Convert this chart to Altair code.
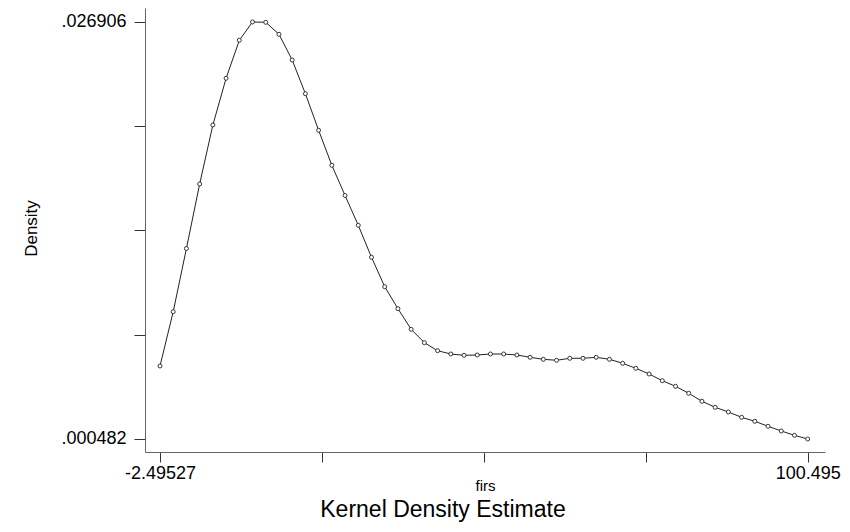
import altair as alt
import pandas as pd

# Evaluation grid of the kernel density estimate (50 points from min to max of firs)
x_values = [
    -2.4953, -0.3934, 1.7084, 3.8103, 5.9121, 8.0140, 10.1158, 12.2176, 14.3195, 16.4213,
    18.5232, 20.6250, 22.7268, 24.8287, 26.9305, 29.0324, 31.1342, 33.2361, 35.3379, 37.4397,
    39.5416, 41.6434, 43.7453, 45.8471, 47.9489, 50.0508, 52.1526, 54.2545, 56.3563, 58.4581,
    60.5600, 62.6618, 64.7637, 66.8655, 68.9674, 71.0692, 73.1710, 75.2729, 77.3747, 79.4766,
    81.5784, 83.6802, 85.7821, 87.8839, 89.9858, 92.0876, 94.1894, 96.2913, 98.3931, 100.4950,
]

density = [
    0.005108, 0.008549, 0.012553, 0.016641, 0.020379, 0.023339, 0.025747, 0.026906, 0.026887, 0.026127,
    0.024498, 0.022363, 0.020043, 0.017826, 0.015912, 0.014024, 0.011996, 0.010133, 0.008739, 0.007433,
    0.006584, 0.006077, 0.005868, 0.005786, 0.005805, 0.005868, 0.005868, 0.005805, 0.005659, 0.005532,
    0.005469, 0.005596, 0.005596, 0.005659, 0.005532, 0.005279, 0.004962, 0.004601, 0.004176, 0.003821,
    0.003378, 0.002871, 0.002491, 0.002193, 0.001857, 0.001604, 0.001287, 0.000989, 0.000716, 0.000482,
]

x_tick_values = [-2.49527, 23.25230, 48.99987, 74.74743, 100.495]
x_tick_labels = ["-2.49527", "", "", "", "100.495"]
y_tick_values = [0.000482, 0.007088, 0.013694, 0.020300, 0.026906]
y_tick_labels = [".000482", "", "", "", ".026906"]

df = pd.DataFrame({"firs": x_values, "Density": density})

FONT = "Liberation Sans"


def label_expr(values, labels):
    expr = "''"
    for v, lab in zip(values, labels):
        if lab:
            expr = f"abs(datum.value - ({v})) < 1e-6 * (1 + abs({v})) ? '{lab}' : " + expr
    return expr


x_scale = alt.Scale(domain=[-4.8804, 103.246], nice=False, zero=False)
y_scale = alt.Scale(domain=[-0.000342, 0.027793], nice=False, zero=False)

x_axis = alt.Axis(
    values=x_tick_values,
    labelExpr=label_expr(x_tick_values, x_tick_labels),
    tickSize=10,
    labelPadding=2,
    labelFontSize=18,
    labelFont=FONT,
    labelColor="black",
    labelOverlap=False,
    labelFlush=False,
    grid=False,
    domainColor="#666666",
    tickColor="#333333",
    title="firs",
    titleFont=FONT,
    titleFontSize=15,
    titleFontWeight="normal",
    titleColor="black",
    titleBaseline="middle",
    titleY=33,
)

y_axis = alt.Axis(
    values=y_tick_values,
    labelExpr=label_expr(y_tick_values, y_tick_labels),
    tickSize=11,
    labelPadding=8,
    labelFontSize=18,
    labelFont=FONT,
    labelColor="black",
    labelOverlap=False,
    labelFlush=False,
    grid=False,
    domainColor="#666666",
    tickColor="#333333",
    title="Density",
    titleFont=FONT,
    titleFontSize=17,
    titleFontWeight="normal",
    titleColor="black",
    titleAngle=270,
    titleAlign="center",
    titleBaseline="middle",
    titleX=-114,
    titleY=220,
)

base = alt.Chart(df).encode(
    x=alt.X("firs:Q", scale=x_scale, axis=x_axis),
    y=alt.Y("Density:Q", scale=y_scale, axis=y_axis),
)

line = base.mark_line(color="#222222", strokeWidth=1)
points = base.mark_point(
    shape="circle", size=16, filled=True, fill="white", stroke="#222222", strokeWidth=0.9, opacity=1
)

chart = (
    alt.layer(line, points)
    .properties(
        width=680,
        height=444,
        background="white",
        padding={"left": 145, "top": 8, "right": 25, "bottom": 80},
        autosize=alt.AutoSizeParams(type="none"),
        title=alt.TitleParams(
            "Kernel Density Estimate",
            orient="bottom",
            anchor="middle",
            font=FONT,
            fontSize=23,
            fontWeight="normal",
            color="black",
            dx=-42,
            offset=6,
        ),
    )
    .configure_view(stroke=None)
)

chart.save("out.html", embed_options={"renderer": "svg", "actions": False})
